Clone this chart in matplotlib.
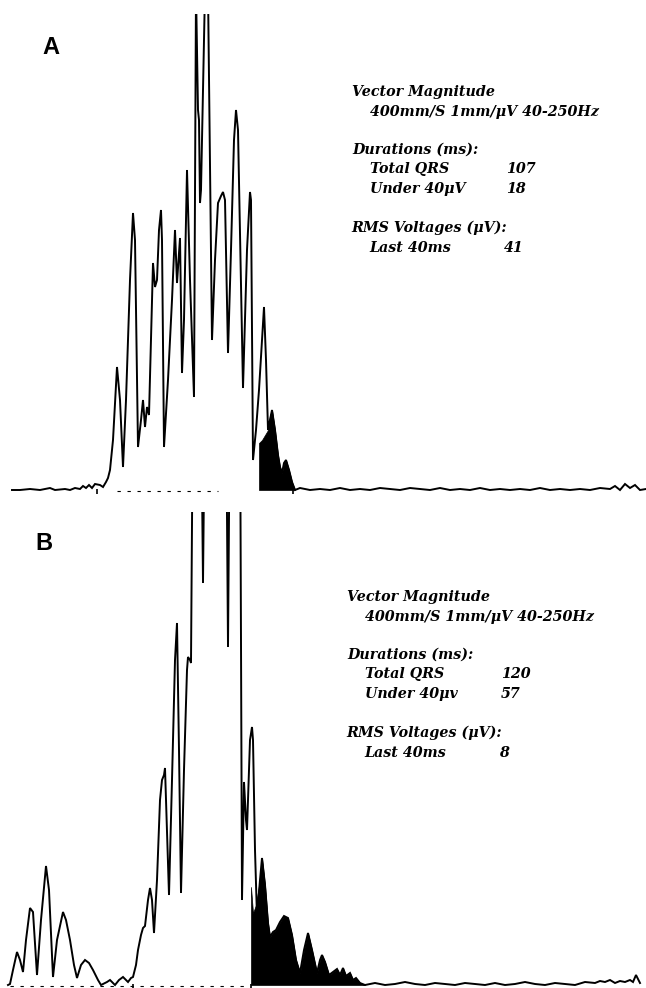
import matplotlib
matplotlib.use("Agg")
import matplotlib.pyplot as plt
import numpy as np

W, H = 646, 988

# ---------------- Panel A data (time in plot units, amplitude in plot units) ----
a_t = [12, 20, 30, 40, 50, 55, 65, 70, 75, 80, 83, 86, 89, 92, 95, 100, 103, 106, 108,
       110, 113, 117, 120, 123, 126, 130, 133, 135, 138, 141, 143, 145, 147, 149, 153,
       155, 157, 159, 161, 162, 164, 168, 172, 175, 177, 180, 182, 184, 187, 190, 194,
       196, 198, 199, 200, 201, 203, 205, 208, 212, 215, 218, 221, 223, 225, 228, 231,
       234, 236, 238, 243, 247, 250, 251, 253, 256, 259, 262, 264, 266, 268, 270, 272,
       275, 278, 280, 282, 284, 286, 289, 292, 295, 300, 310, 320, 330, 340, 350, 360,
       370, 380, 390, 400, 410, 420, 430, 440, 450, 460, 470, 480, 490, 500, 510, 520,
       530, 540, 550, 560, 570, 580, 590, 600, 610, 615, 620, 625, 630, 635, 640, 646]
a_v = [0, 0, 1, 0, 2, 0, 1, 0, 2, 1, 4, 2, 5, 2, 6, 5, 3, 8, 12,
       20, 50, 123, 90, 23, 90, 210, 277, 250, 43, 70, 90, 63, 83, 75, 227,
       203, 210, 260, 280, 250, 43, 110, 190, 260, 207, 252, 117, 170, 320, 210, 93,
       500, 380, 370, 287, 300, 400, 500, 500, 150, 230, 287, 294, 298, 290, 137, 240,
       350, 380, 360, 102, 240, 298, 290, 30, 60, 100, 150, 183, 130, 60, 70, 80,
       60, 35, 23, 17, 27, 30, 20, 8, 0, 2, 0, 1, 0, 2, 0, 1,
       0, 2, 1, 0, 2, 1, 0, 2, 0, 1, 0, 2, 0, 1, 0, 1,
       0, 2, 0, 1, 0, 1, 0, 2, 1, 4, 0, 6, 2, 5, 0, 1]
# shaded area (last 40 ms), top edge as printed
a_fill_t = [259, 262, 265, 268, 270, 272, 275, 278, 280, 282, 284, 286, 289, 292, 295]
a_fill_v = [47, 50, 55, 60, 75, 80, 60, 35, 23, 17, 27, 30, 20, 8, 0]
a_ticks = [97, 293]
a_dash = (117, 218)

# ---------------- Panel B data ----
b_t = [8, 10, 13, 17, 20, 23, 26, 30, 33, 37, 41, 46, 49, 53, 57, 63, 66, 70, 74, 77,
       81, 85, 89, 93, 98, 101, 103, 107, 110, 113, 115, 119, 123, 126, 128, 131, 133,
       136, 138, 141, 143, 145, 148, 150, 152, 154, 157, 160, 162, 164, 165, 167, 169,
       172, 175, 177, 179, 181, 184, 187, 188, 190, 191, 193, 201, 203, 205, 226, 228,
       230, 240, 242, 244, 246, 247, 250, 252, 253, 255, 257, 260, 262, 265, 268, 270,
       273, 276, 280, 284, 288, 292, 296, 300, 304, 308, 312, 317, 320, 322, 325, 329,
       333, 337, 340, 343, 346, 350, 353, 356, 360, 365, 375, 385, 395, 405, 415, 425,
       435, 445, 455, 465, 475, 485, 495, 505, 515, 525, 535, 545, 555, 565, 575, 585,
       595, 600, 605, 610, 615, 620, 625, 630, 633, 636, 640]
b_v = [0, 1, 15, 33, 25, 13, 45, 77, 73, 10, 65, 119, 95, 8, 45, 73, 65, 45, 20, 7,
       20, 25, 22, 15, 5, 0, 1, 3, 5, 2, 0, 5, 8, 5, 3, 7, 8,
       20, 35, 50, 57, 59, 85, 97, 85, 52, 105, 185, 205, 210, 217, 155, 90,
       205, 325, 362, 235, 92, 215, 315, 328, 325, 322, 600, 600, 402, 600, 600, 338,
       600, 600, 85, 203, 165, 155, 245, 258, 245, 135, 68, 105, 127, 100, 62, 48,
       53, 55, 63, 69, 67, 50, 25, 12, 35, 52, 35, 12, 25, 30, 23, 10,
       13, 16, 10, 17, 9, 12, 5, 7, 2, 0, 2, 0, 1, 3, 1, 0,
       2, 1, 0, 2, 1, 0, 2, 0, 1, 3, 1, 0, 2, 1, 0, 3,
       2, 4, 3, 5, 2, 4, 3, 5, 3, 10, 2]
b_fill_t = [251, 253, 256, 259, 262, 265, 268, 270, 273, 276, 280, 284, 288, 292, 296,
            300, 304, 308, 312, 317, 320, 322, 325, 329, 333, 337, 340, 343, 346, 350,
            353, 356, 360, 365]
b_fill_v = [98, 72, 80, 100, 127, 100, 62, 48, 53, 55, 63, 69, 67, 50, 25,
            12, 35, 52, 35, 12, 25, 30, 23, 10, 13, 16, 10, 17, 9, 12,
            5, 7, 2, 0]
b_ticks = [133, 251]
b_dash = (10, 250)

# ---------------- Text ----
info_title = "Vector Magnitude"
info_scale = "400mm/S 1mm/\u03bcV 40-250Hz"
dur_head = "Durations (ms):"
rms_head = "RMS Voltages (\u03bcV):"
a_rows = [("Total QRS", "107"), ("Under 40\u03bcV", "18")]
a_rms = ("Last 40ms", "41")
b_rows = [("Total QRS", "120"), ("Under 40\u03bcv", "57")]
b_rms = ("Last 40ms", "8")

fig = plt.figure(figsize=(W / 100, H / 100), dpi=100)
fig.patch.set_facecolor("white")


def make_axes(top_px, bot_px, baseline_px):
    ax = fig.add_axes([0, 1 - bot_px / H, 1, (bot_px - top_px) / H])
    ax.set_xlim(0, W)
    ax.set_ylim(-(bot_px - baseline_px), baseline_px - top_px)
    ax.axis("off")
    return ax


def draw_panel(ax, t, v, ft, fv, ticks, dash):
    ax.plot(t, v, color="black", lw=1.4, solid_joinstyle="miter")
    ft = [ft[0]] + list(ft)
    fv = [0] + list(fv)
    ax.fill_between(ft, 0, fv, color="black", lw=0.5, edgecolor="black")
    ax.hlines(-1, dash[0], dash[1], colors="black", lw=0.8, linestyles=(0, (3, 6)))
    for x in ticks:
        ax.vlines(x, -5, 1, colors="black", lw=1.2)


axA = make_axes(14, 494, 490)
draw_panel(axA, a_t, a_v, a_fill_t, a_fill_v, a_ticks, a_dash)
axB = make_axes(512, 988, 985)
draw_panel(axB, b_t, b_v, b_fill_t, b_fill_v, b_ticks, b_dash)


def ftext(x, y, s, **kw):
    fig.text(x / W, 1 - y / H, s, va="center", ha="left", **kw)


lab = dict(fontsize=17, fontweight="bold", family="Liberation Sans")
ftext(42, 47, "A", **lab)
ftext(35, 543, "B", **lab)

tk = dict(fontsize=10.3, fontstyle="italic", fontweight="bold", family="DejaVu Serif")


def info(y0, xl, rows, rms):
    ftext(xl, y0, info_title, **tk)
    ftext(xl + 18, y0 + 20, info_scale, **tk)
    ftext(xl, y0 + 58, dur_head, **tk)
    for i, (k, val) in enumerate(rows):
        ftext(xl + 18, y0 + 77 + 20 * i, k, **tk)
        ftext(xl + 154, y0 + 77 + 20 * i, val, **tk)
    ftext(xl - 1, y0 + 136, rms_head, **tk)
    ftext(xl + 17, y0 + 156, rms[0], **tk)
    ftext(xl + 152, y0 + 156, rms[1], **tk)


info(92, 352, a_rows, a_rms)
info(597, 347, b_rows, b_rms)

fig.savefig("out.png", dpi=100, facecolor="white")
